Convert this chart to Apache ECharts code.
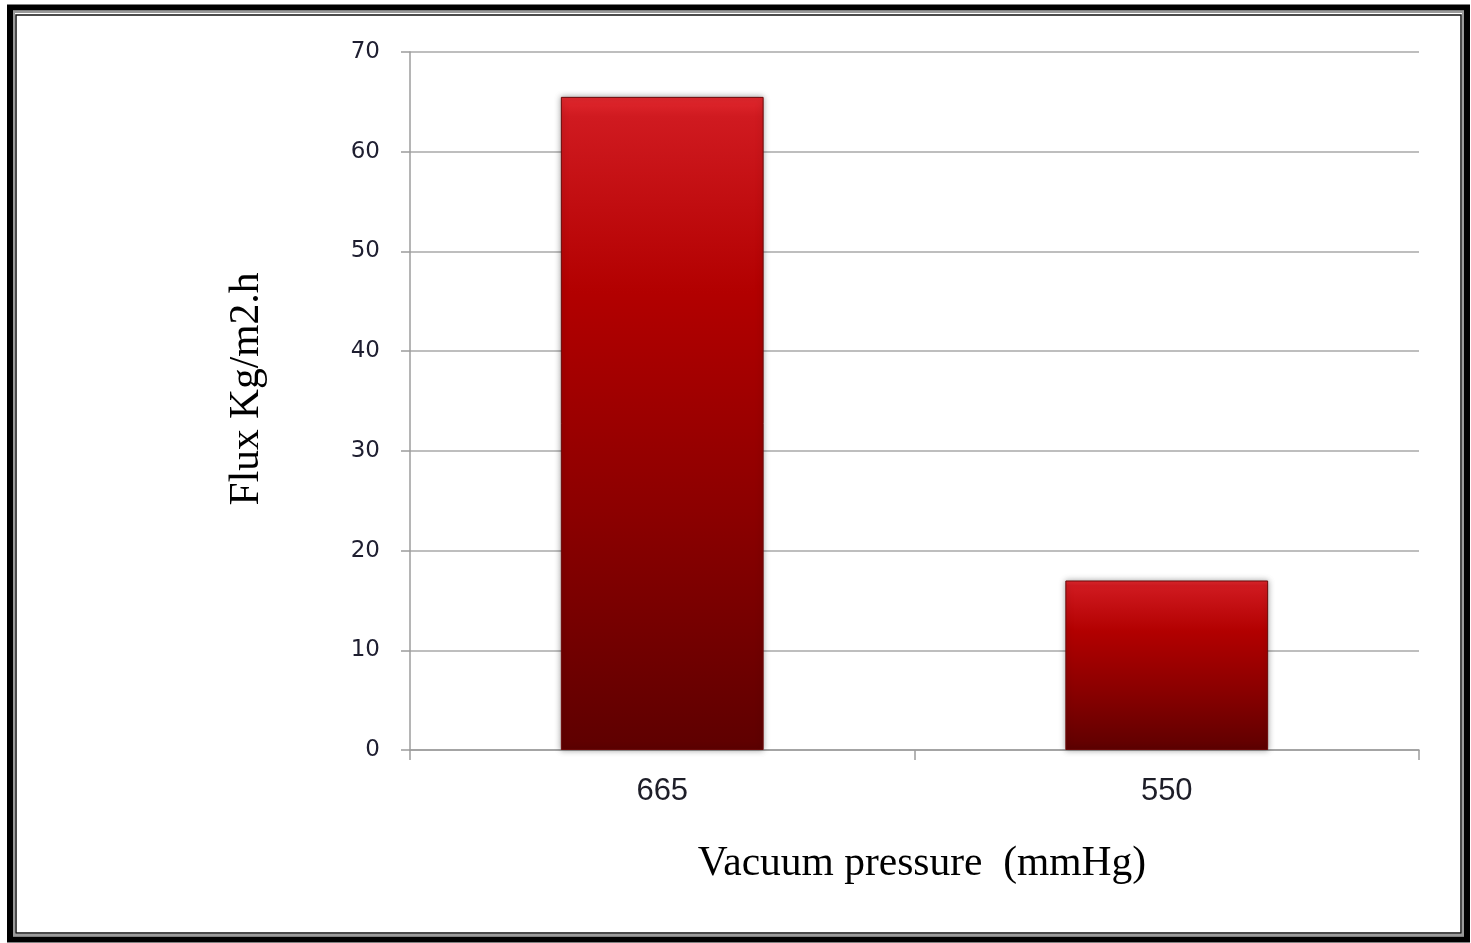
<!DOCTYPE html>
<html>
<head>
<meta charset="utf-8">
<script src="https://cdn.jsdelivr.net/npm/echarts@6/dist/echarts.min.js"></script>
<style>
html,body{margin:0;padding:0;background:#fff;}
#chart{width:1471px;height:943px;}
</style>
</head>
<body>
<div id="chart"></div>
<script>
const categories = ['665', '550'];
const fluxValues = [65.5, 17];
const yMin = 0, yMax = 70, yStep = 10;
const xTitle = 'Vacuum pressure  (mmHg)';
const yTitle = 'Flux Kg/m2.h';

const chart = echarts.init(document.getElementById('chart'), null, {renderer: 'canvas'});
const barGradient = new echarts.graphic.LinearGradient(0, 0, 0, 1, [
  {offset: 0, color: '#e2282e'},
  {offset: 0.03, color: '#d01a20'},
  {offset: 0.3, color: '#b20000'},
  {offset: 0.65, color: '#8a0000'},
  {offset: 1, color: '#5e0000'}
]);
chart.setOption({
  backgroundColor: '#ffffff',
  animation: false,
  grid: {left: 410, right: 52, top: 52, bottom: 193, containLabel: false},
  xAxis: {
    type: 'category',
    data: categories,
    boundaryGap: true,
    axisLine: {lineStyle: {color: '#9c9c9c', width: 1.5}},
    axisTick: {show: true, length: 10, interval: 0, lineStyle: {color: '#9c9c9c', width: 1.5}},
    axisLabel: {margin: 26, fontFamily: 'Liberation Sans', fontSize: 31, color: '#1e1e28'},
    name: xTitle,
    nameLocation: 'middle',
    nameGap: 93,
    nameTextStyle: {fontFamily: 'Liberation Serif', fontSize: 41.5, color: '#000', padding: [0, 0, 0, 15]}
  },
  yAxis: {
    type: 'value',
    min: yMin, max: yMax, interval: yStep,
    axisLine: {show: true, lineStyle: {color: '#9c9c9c', width: 1.5}},
    axisTick: {show: true, length: 9, lineStyle: {color: '#9c9c9c', width: 1.5}},
    splitLine: {show: true, lineStyle: {color: '#a8a8a8', width: 1.5}},
    axisLabel: {margin: 30, fontFamily: 'DejaVu Sans', fontSize: 23, color: '#1e1e30'},
    name: yTitle,
    nameLocation: 'middle',
    nameGap: 142,
    nameRotate: 90,
    nameTextStyle: {fontFamily: 'Liberation Serif', fontSize: 41.5, color: '#000', padding: [0, 0, 0, 24]}
  },
  series: [{
    type: 'bar',
    data: fluxValues,
    barWidth: '40.2%',
    itemStyle: {
      color: barGradient,
      borderColor: '#6a0a0a',
      borderWidth: 1,
      shadowBlur: 6,
      shadowColor: 'rgba(0,0,0,0.35)'
    }
  }],
  graphic: [
    {type: 'rect', silent: true, shape: {x: 10, y: 7.5, width: 1457, height: 932}, style: {fill: 'none', stroke: '#000', lineWidth: 6}},
    {type: 'rect', silent: true, shape: {x: 14, y: 12, width: 1449, height: 923}, style: {fill: 'none', stroke: '#9a9a9a', lineWidth: 2}},
    {type: 'rect', silent: true, shape: {x: 16, y: 15, width: 1445, height: 918}, style: {fill: 'none', stroke: '#111', lineWidth: 1.5}}
  ]
});
</script>
</body>
</html>
